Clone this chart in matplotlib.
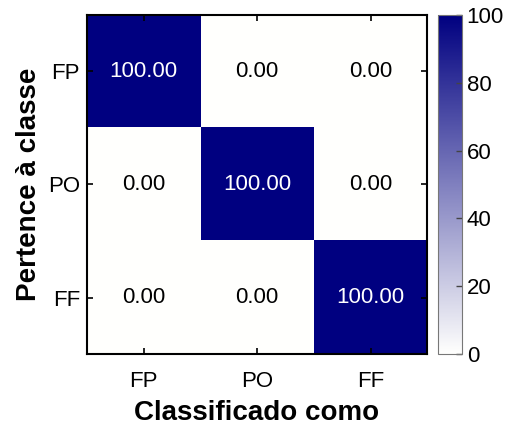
import numpy as np
import matplotlib.pyplot as plt
from matplotlib.colors import LinearSegmentedColormap

plt.rcParams['font.family'] = ['Liberation Sans', 'DejaVu Sans']

classes = ['FP', 'PO', 'FF']
conf = np.array([[100.0, 0.0, 0.0],
                 [0.0, 100.0, 0.0],
                 [0.0, 0.0, 100.0]])

cmap = LinearSegmentedColormap.from_list('wn', ['#fffffd', '#000080'])

fig = plt.figure(figsize=(5.08, 4.25), dpi=100)
ax = fig.add_axes([0.171, 0.167, 0.670, 0.798])
cax = fig.add_axes([0.862, 0.167, 0.047, 0.798])

im = ax.imshow(conf, cmap=cmap, vmin=0, vmax=100, aspect='auto')

# cell labels
for i in range(len(classes)):
    for j in range(len(classes)):
        v = conf[i, j]
        ax.text(j, i, f'{v:.2f}', ha='center', va='center', fontsize=16,
                color='white' if v > 50 else 'black')

ax.set_xticks(range(len(classes)))
ax.set_yticks(range(len(classes)))
ax.set_xticklabels(classes, fontsize=16)
ax.set_yticklabels(classes, fontsize=16)
ax.tick_params(direction='in', top=True, right=True, length=4, width=1.2)
ax.tick_params(axis='x', pad=12)
ax.tick_params(axis='y', pad=5)
for s in ax.spines.values():
    s.set_linewidth(1.5)
ax.set_xlabel('Classificado como', fontsize=20, fontweight='bold', labelpad=6)
ax.set_ylabel('Pertence à classe', fontsize=20, fontweight='bold', labelpad=4)

cb = fig.colorbar(im, cax=cax)
cb.set_ticks([0, 20, 40, 60, 80, 100])
cb.ax.tick_params(labelsize=16, direction='in', length=4, width=1, color='#444444')
cb.outline.set_edgecolor('#777777')

fig.savefig('out.png', dpi=100)
